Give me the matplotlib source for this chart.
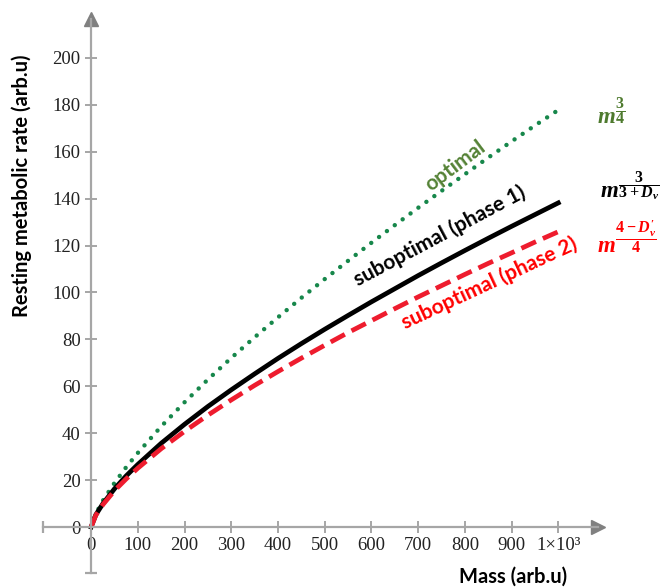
import numpy as np
import matplotlib
matplotlib.use('agg')
import matplotlib.pyplot as plt

# values
mass = [0, 10, 25, 50, 75, 100, 150, 200, 250, 300, 350, 400, 450, 500,
        550, 600, 650, 700, 750, 800, 850, 900, 950, 1000]
optimal = [0, 5.6, 11.2, 18.8, 25.5, 31.6, 42.9, 53.2, 62.9, 72.1, 80.9, 89.4, 97.7, 105.7,
           113.5, 121.2, 128.7, 136.1, 143.3, 150.4, 157.5, 164.4, 171.2, 177.8]
phase1 = [0, 5.2, 9.9, 16.3, 21.8, 26.7, 35.7, 43.8, 51.4, 58.5, 65.3, 71.9, 78.2, 84.3,
          90.2, 96.0, 101.6, 107.2, 112.6, 117.9, 123.1, 128.2, 133.2, 138.2]
phase2 = [0, 5.0, 9.5, 15.5, 20.5, 25.1, 33.4, 40.8, 47.7, 54.2, 60.4, 66.3, 72.0, 77.5,
          82.9, 88.0, 93.1, 98.1, 102.9, 107.7, 112.4, 116.9, 121.5, 125.9]

xticks = [0, 100, 200, 300, 400, 500, 600, 700, 800, 900, 1000]
xticklabels = ['0', '100', '200', '300', '400', '500', '600', '700', '800', '900', '1×10³']
yticks = [0, 20, 40, 60, 80, 100, 120, 140, 160, 180, 200]

plt.rcParams['mathtext.fontset'] = 'custom'
plt.rcParams['mathtext.it'] = 'Liberation Serif:italic:bold'
plt.rcParams['mathtext.rm'] = 'Liberation Serif:bold'
plt.rcParams['mathtext.bf'] = 'Liberation Serif:bold'

axis_col = '#a6a6a6'
green_dot = '#17874b'
green_txt = '#548235'
red = '#ee1c2e'

fig = plt.figure(figsize=(6.63, 5.87), dpi=100)
ax = fig.add_axes([43/663, 1-573/587, 555/663, 554/587])
ax.set_xlim(-103, 1085)
ax.set_ylim(-19.6, 216.6)

# axes through the origin
for s in ['top', 'right']:
    ax.spines[s].set_visible(False)
ax.spines['left'].set_position(('data', 0))
ax.spines['bottom'].set_position(('data', 0))
for s in ['left', 'bottom']:
    ax.spines[s].set_color(axis_col)
    ax.spines[s].set_linewidth(1.6)
ax.plot(1, 0, '>', color='#808080', ms=10, transform=ax.get_yaxis_transform(), clip_on=False)
ax.plot(0, 1, '^', color='#808080', ms=10, transform=ax.get_xaxis_transform(), clip_on=False)
ax.plot(0, 0, '|', color=axis_col, ms=9, mew=1.6, transform=ax.get_yaxis_transform(), clip_on=False)
ax.plot(0, 0, '_', color=axis_col, ms=9, mew=1.6, transform=ax.get_xaxis_transform(), clip_on=False)

ax.set_xticks(xticks)
ax.set_xticklabels(xticklabels)
ax.set_yticks(yticks)
ax.tick_params(direction='inout', length=8, width=1.4, color=axis_col,
               labelsize=13.5, labelcolor='#222222')
for lab in ax.get_xticklabels() + ax.get_yticklabels():
    lab.set_family('Liberation Serif')

# curves
ax.plot(mass, optimal, color=green_dot, lw=3.2, linestyle=(0, (0.01, 2.2)),
        dash_capstyle='round', solid_capstyle='round')
ax.plot(mass, phase1, color='black', lw=3.4)
ax.plot(mass, phase2, color=red, lw=3.4, linestyle=(0, (3.4, 1.6)))

# curve names
ax.text(779, 154, 'optimal', color=green_txt, fontsize=15, fontweight='bold',
        family='Lato', rotation=37, ha='center', va='center', rotation_mode='anchor')
ax.text(745, 124, 'suboptimal (phase 1)', color='black', fontsize=15, fontweight='bold',
        family='Lato', rotation=28, ha='center', va='center', rotation_mode='anchor')
ax.text(852, 104, 'suboptimal (phase 2)', color='red', fontsize=15, fontweight='bold',
        family='Lato', rotation=25, ha='center', va='center', rotation_mode='anchor')

# exponents at the curve ends
ax.annotate(r'$m^{\dfrac{3}{4}}$', xy=(mass[-1], optimal[-1]), xytext=(39, -14),
            textcoords='offset pixels', color='#4e7a2e', fontsize=16.5, va='baseline',
            annotation_clip=False)
ax.annotate(r'$m^{\dfrac{3}{3+D_v}}$', xy=(mass[-1], phase1[-1]), xytext=(42, 5),
            textcoords='offset pixels', color='black', fontsize=16.5, va='baseline',
            annotation_clip=False)
ax.annotate(r"$m^{\dfrac{4-D_v'}{4}}$", xy=(mass[-1], phase2[-1]), xytext=(39, -21),
            textcoords='offset pixels', color='red', fontsize=16.5, va='baseline',
            annotation_clip=False)

fig.text(22/663, 1-186/587, 'Resting metabolic rate (arb.u)', rotation=90,
         ha='center', va='center', fontsize=14.5, fontweight='bold', family='Lato')
fig.text(513/663, 1-577/587, 'Mass (arb.u)', ha='center', va='center',
         fontsize=14.5, fontweight='bold', family='Lato')

fig.savefig('out.png', dpi=100)
